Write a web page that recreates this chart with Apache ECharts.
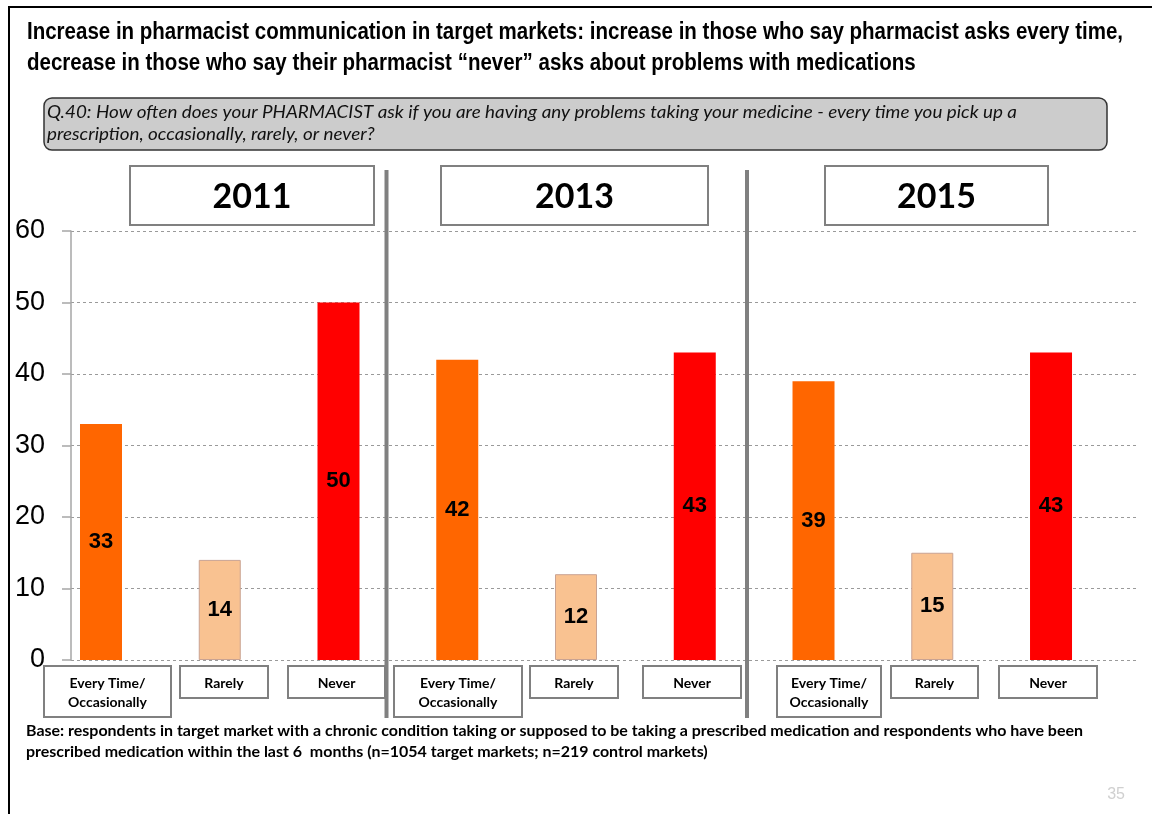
<!DOCTYPE html>
<html>
<head>
<meta charset="utf-8">
<script src="https://cdn.jsdelivr.net/npm/echarts@6/dist/echarts.min.js"></script>
<style>html,body{margin:0;padding:0;background:#fff;}#chart{width:1152px;height:814px;}</style>
</head>
<body>
<div id="chart"></div>
<script>
// ---- data ----
const years = ['2011', '2013', '2015'];
const categories = ['Every Time/\nOccasionally', 'Rarely', 'Never'];
const values2011 = [33, 14, 50];
const values2013 = [42, 12, 43];
const values2015 = [39, 15, 43];
const yTicks = [0, 10, 20, 30, 40, 50, 60];
const titleLines = [
  'Increase in pharmacist communication in target markets: increase in those who say pharmacist asks every time,',
  'decrease in those who say their pharmacist \u201cnever\u201d asks about problems with medications'
];
const questionLines = [
  'Q.40: How often does your PHARMACIST ask if you are having any problems taking your medicine - every time you pick up a',
  'prescription, occasionally, rarely, or never?'
];
const footLines = [
  'Base: respondents in target market with a chronic condition taking or supposed to be taking a prescribed medication and respondents who have been',
  'prescribed medication within the last 6  months (n=1054 target markets; n=219 control markets)'
];
const pageNo = '35';

// ---- styles ----
const catColors = ['#FF6600', '#F9C291', '#FF0000'];
const catBorders = ['#FF6600', '#C9A393', '#FF0000'];
const allValues = [values2011, values2013, values2015];

const barData = [];
allValues.forEach((vals, yi) => {
  vals.forEach((v, ci) => {
    barData.push({
      value: [yi * 3 + ci, v],
      itemStyle: { color: catColors[ci], borderColor: catBorders[ci], borderWidth: ci === 1 ? 1 : 0 }
    });
  });
});

const mctx = document.createElement('canvas').getContext('2d');
function fitScale(text, font, target) {
  mctx.font = font;
  return target / mctx.measureText(text).width;
}

const graphics = [];
// border lines
graphics.push({ type: 'line', shape: { x1: 8, y1: 7, x2: 1152, y2: 7 }, style: { stroke: '#000', lineWidth: 2 }, z: 100 });
graphics.push({ type: 'line', shape: { x1: 9, y1: 7, x2: 9, y2: 814 }, style: { stroke: '#000', lineWidth: 2 }, z: 100 });
// title
const titleFont = 'bold 23px "Liberation Sans", Arial, sans-serif';
const titleScale = fitScale(titleLines[0], titleFont, 1096);
titleLines.forEach((t, i) => {
  graphics.push({ type: 'text', x: 27, y: 33 + i * 31, scaleX: titleScale, style: {
    text: t, fill: '#000', textVerticalAlign: 'middle', font: titleFont } });
});
// question box
graphics.push({ type: 'rect', shape: { x: 44, y: 98, width: 1063, height: 52, r: 8 }, style: { fill: '#CCCCCC', stroke: '#333', lineWidth: 1.5 } });
const qFont = 'italic 17px Lato, "Open Sans", sans-serif';
const qScale = fitScale(questionLines[0], qFont, 970);
questionLines.forEach((t, i) => {
  graphics.push({ type: 'text', x: 47, y: 113 + i * 22, scaleX: qScale, style: {
    text: t, fill: '#111', textVerticalAlign: 'middle', font: qFont } });
});
// year boxes
const yearBoxes = [[130, 244], [441, 267], [825, 223]];
years.forEach((yr, i) => {
  const b = yearBoxes[i];
  graphics.push({ type: 'rect', shape: { x: b[0], y: 166, width: b[1], height: 59 }, style: { fill: '#fff', stroke: '#808080', lineWidth: 2 } });
  graphics.push({ type: 'text', x: b[0] + b[1] / 2, y: 197, style: {
    text: yr, fill: '#000', textAlign: 'center', textVerticalAlign: 'middle',
    font: 'bold 34px Lato, "Open Sans", sans-serif' } });
});
// separators
[386.5, 747].forEach(x => {
  graphics.push({ type: 'line', shape: { x1: x, y1: 170, x2: x, y2: 718 }, style: { stroke: '#808080', lineWidth: 4 }, z: 50 });
});
// category boxes
const catBoxes = [
  [[44, 127], [180, 88], [288, 97]],
  [[394, 128], [530, 88], [643, 98]],
  [[777, 104], [891, 87], [999, 98]]
];
catBoxes.forEach(row => {
  row.forEach((b, ci) => {
    const lines = categories[ci].split('\n');
    const h = lines.length > 1 ? 51 : 32;
    graphics.push({ type: 'rect', shape: { x: b[0], y: 666, width: b[1], height: h }, style: { fill: '#fff', stroke: '#808080', lineWidth: 2 }, z: 60 });
    lines.forEach((ln, li) => {
      graphics.push({ type: 'text', x: b[0] + b[1] / 2, y: 683 + li * 19, z: 61, style: {
        text: ln, fill: '#000', textAlign: 'center', textVerticalAlign: 'middle',
        font: 'bold 14px Lato, "Open Sans", sans-serif' } });
    });
  });
});
// footnote
const fFont = 'bold 16px Lato, "Open Sans", sans-serif';
const fScale = fitScale(footLines[0], fFont, 1057);
footLines.forEach((t, i) => {
  graphics.push({ type: 'text', x: 26, y: 731 + i * 21, scaleX: fScale, style: {
    text: t, fill: '#000', textVerticalAlign: 'middle', font: fFont } });
});
graphics.push({ type: 'text', x: 1125, y: 795, style: {
  text: pageNo, fill: '#D0D0D0', textAlign: 'right', textVerticalAlign: 'middle',
  font: '16px "Liberation Sans", sans-serif' } });

const chart = echarts.init(document.getElementById('chart'), null, { renderer: 'canvas' });
chart.setOption({
  backgroundColor: '#fff',
  animation: false,
  grid: { left: 71, right: 15, top: 231, bottom: 154, containLabel: false },
  xAxis: {
    type: 'value', min: -0.2526, max: 8.724,
    show: false
  },
  yAxis: {
    type: 'value', min: yTicks[0], max: yTicks[yTicks.length - 1], interval: 10,
    axisLine: { show: true, onZero: false, lineStyle: { color: '#A6A6A6', width: 1.5 } },
    axisTick: { show: true, length: 9, lineStyle: { color: '#A6A6A6', width: 1.5 } },
    axisLabel: { color: '#000', fontSize: 27, fontFamily: '"Liberation Sans", Arial, sans-serif', margin: 26 },
    splitLine: { show: true, lineStyle: { color: '#9A9A9A', type: [3, 3], width: 1 } }
  },
  series: [{
    type: 'bar',
    barWidth: 42,
    data: barData,
    label: {
      show: true, position: 'inside', color: '#000',
      fontSize: 22, fontWeight: 'bold', fontFamily: '"Liberation Sans", Arial, sans-serif',
      formatter: p => p.value[1]
    },
    z: 2
  }],
  graphic: graphics
});
</script>
</body>
</html>
